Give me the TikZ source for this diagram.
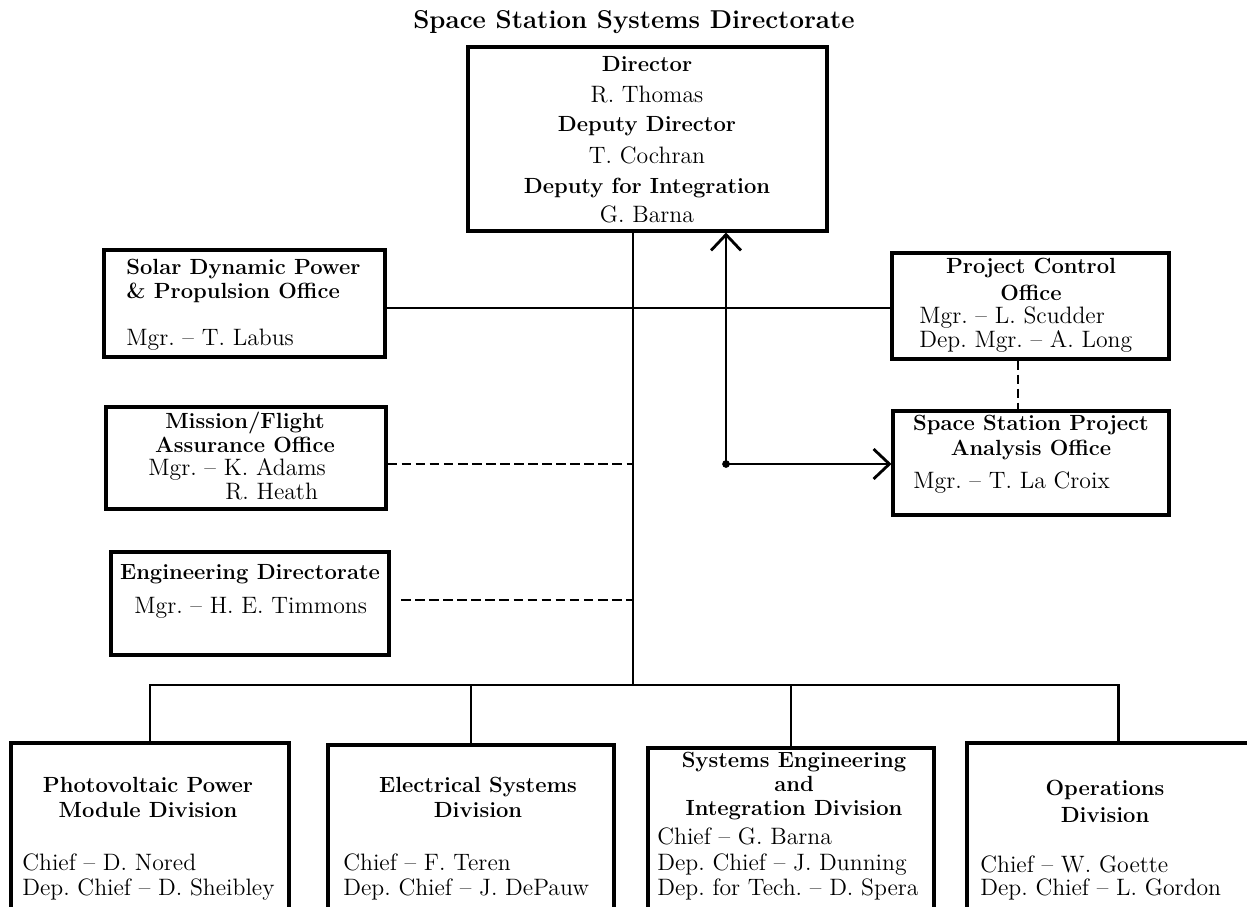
\documentclass[tikz,border=0pt]{standalone}
\usepackage{tikz}
\usetikzlibrary{arrows.meta}
\tikzset{
  box/.style={draw, line width=1.8pt, inner sep=0pt},
  ttl/.style={font=\fontsize{14.7}{17}\selectfont\bfseries, inner sep=0pt},
  hd/.style={font=\fontsize{12.5}{15}\selectfont\bfseries, inner sep=0pt,
             text height=8.6pt, text depth=2.4pt},
  nm/.style={font=\fontsize{13.5}{16}\selectfont, inner sep=0pt,
             text height=9.2pt, text depth=2.6pt},
  ln/.style={line width=1.5pt},
  dsh/.style={line width=1.5pt, dash pattern=on 5.5pt off 2.5pt},
  arr/.style={line width=1.5pt, -{Straight Barb[length=9pt, width=17pt, line width=1.6pt]}},
}

\begin{document}
\begin{tikzpicture}[x=0.02cm, y=-0.02cm]
    \useasboundingbox (0,0) rectangle (1247,906);
    \clip (0,0) rectangle (1247,906);

    \node[ttl] (title) at (634,22) {Space Station Systems Directorate};

    % director
    \node[box, minimum width=7.18cm, minimum height=3.68cm] (dir) at (647.5,139) {};
    \node[hd] (dir1) at (647,66)  {Director};
    \node[nm] (dir2) at (647,97)  {R. Thomas};
    \node[hd] (dir3) at (647,126) {Deputy Director};
    \node[nm] (dir4) at (647,158) {T. Cochran};
    \node[hd] (dir5) at (647,188) {Deputy for Integration};
    \node[nm] (dir6) at (647,217) {G. Barna};

    % left column
    \node[box, minimum width=5.62cm, minimum height=2.14cm] (solar) at (244.5,303.5) {};
    \node[hd, anchor=west] (solar1) at (126,269) {Solar Dynamic Power};
    \node[hd, anchor=west] (solar2) at (126,293) {\& Propulsion Office};
    \node[nm, anchor=west] (solar3) at (126,340) {Mgr.\ -- T. Labus};

    \node[box, minimum width=5.6cm, minimum height=2.04cm] (mfa) at (246,458) {};
    \node[hd] (mfa1) at (245,423) {Mission/Flight};
    \node[hd] (mfa2) at (245,447) {Assurance Office};
    \node[nm, anchor=west] (mfa3) at (148,470) {Mgr.\ -- K. Adams};
    \node[nm, anchor=west] (mfa4) at (225,494) {R. Heath};

    \node[box, minimum width=5.56cm, minimum height=2.06cm] (eng) at (250,603.5) {};
    \node[hd] (eng1) at (250,574) {Engineering Directorate};
    \node[nm, anchor=west] (eng2) at (134,608) {Mgr.\ -- H. E. Timmons};

    % right column
    \node[box, minimum width=5.54cm, minimum height=2.12cm] (pco) at (1030.5,306) {};
    \node[hd] (pco1) at (1031,268) {Project Control};
    \node[hd] (pco2) at (1031,295) {Office};
    \node[nm, anchor=west] (pco3) at (919,318) {Mgr.\ -- L. Scudder};
    \node[nm, anchor=west] (pco4) at (919,342) {Dep.\ Mgr.\ -- A. Long};

    \node[box, minimum width=5.52cm, minimum height=2.08cm] (sspa) at (1031,463) {};
    \node[hd] (sspa1) at (1031,425) {Space Station Project};
    \node[hd] (sspa2) at (1031,450) {Analysis Office};
    \node[nm, anchor=west] (sspa3) at (913,483) {Mgr.\ -- T. La Croix};

    % divisions
    \node[box, minimum width=5.56cm, minimum height=3.74cm] (pv) at (150,836.5) {};
    \node[hd] (pv1) at (148,787) {Photovoltaic Power};
    \node[hd] (pv2) at (148,812) {Module Division};
    \node[nm, anchor=west] (pv3) at (22,865) {Chief -- D. Nored};
    \node[nm, anchor=west] (pv4) at (22,890) {Dep.\ Chief -- D. Sheibley};

    \node[box, minimum width=5.72cm, minimum height=3.70cm] (esd) at (471,837.5) {};
    \node[hd] (esd1) at (478,787) {Electrical Systems};
    \node[hd] (esd2) at (478,812) {Division};
    \node[nm, anchor=west] (esd3) at (343,865) {Chief -- F. Teren};
    \node[nm, anchor=west] (esd4) at (343,890) {Dep.\ Chief -- J. DePauw};

    \node[box, minimum width=5.72cm, minimum height=3.64cm] (sei) at (791,839) {};
    \node[hd] (sei1) at (794,762) {Systems Engineering};
    \node[hd] (sei2) at (794,786) {and};
    \node[hd] (sei3) at (794,810) {Integration Division};
    \node[nm, anchor=west] (sei4) at (657,839) {Chief -- G. Barna};
    \node[nm, anchor=west] (sei5) at (657,865) {Dep.\ Chief -- J. Dunning};
    \node[nm, anchor=west] (sei6) at (657,890) {Dep.\ for Tech.\ -- D. Spera};

    \node[box, minimum width=6.06cm, minimum height=3.74cm] (ops) at (1118.5,836.5) {};
    \node[hd] (ops1) at (1105,790) {Operations};
    \node[hd] (ops2) at (1105,817) {Division};
    \node[nm, anchor=west] (ops3) at (980,867) {Chief -- W. Goette};
    \node[nm, anchor=west] (ops4) at (980,890) {Dep.\ Chief -- L. Gordon};

    % connectors
    \coordinate (jS) at (633,308);
    \coordinate (jM) at (633,464);
    \coordinate (jE) at (633,600);
    \coordinate (jB) at (633,685);
    \coordinate (jA) at (726,464);
    \draw[ln] (dir.south -| jB) -- (jB);
    \draw[ln] (solar.east |- jS) -- (pco.west |- jS);
    \draw[dsh] (mfa.east |- jM) -- (jM);
    \draw[dsh, shorten <=6pt] (eng.east |- jE) -- (jE);
    \draw[dsh] ([xshift=-0.25cm]pco.south) -- ([xshift=-0.25cm]pco.south |- sspa.north);
    \draw[ln] (pv.north) |- (jB) -| (ops.north);
    \foreach \b in {esd,sei}
      \draw[ln] (\b.north) -- (\b.north |- jB);
    \fill (jA) circle (2.2pt);
    \draw[arr] (jA) -- (jA |- dir.south);
    \draw[arr] (jA) -- (sspa.west |- jA);
  \end{tikzpicture}
\end{document}
